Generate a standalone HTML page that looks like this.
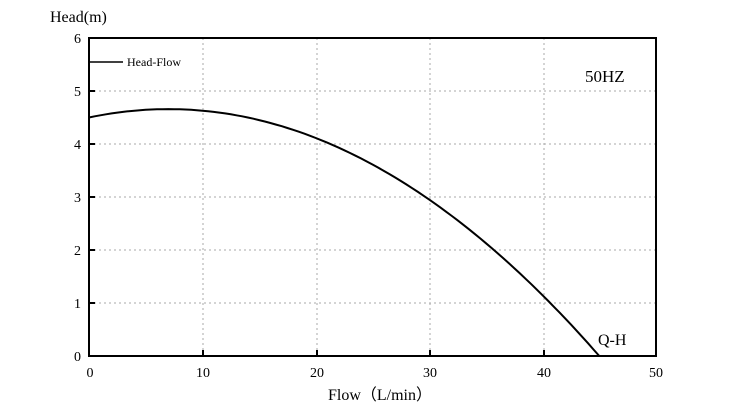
<!DOCTYPE html>
<html><head><style>body{margin:0;background:#fff}svg{display:block}</style></head><body>
<svg width="736" height="416" xmlns="http://www.w3.org/2000/svg" font-family="Liberation Serif, serif">
<g stroke="#aaa" stroke-dasharray="2,3" stroke-width="1">
<line x1="203" y1="38" x2="203" y2="356"/><line x1="317" y1="38" x2="317" y2="356"/><line x1="430" y1="38" x2="430" y2="356"/><line x1="544" y1="38" x2="544" y2="356"/>
<line x1="89" y1="91" x2="656" y2="91"/><line x1="89" y1="144" x2="656" y2="144"/><line x1="89" y1="197" x2="656" y2="197"/><line x1="89" y1="250" x2="656" y2="250"/><line x1="89" y1="303" x2="656" y2="303"/>
</g>
<rect x="89" y="38" width="567" height="318" fill="none" stroke="#000" stroke-width="2"/>
<g stroke="#000" stroke-width="2">
<line x1="203" y1="356" x2="203" y2="350"/><line x1="317" y1="356" x2="317" y2="350"/><line x1="430" y1="356" x2="430" y2="350"/><line x1="544" y1="356" x2="544" y2="350"/>
<line x1="89" y1="91" x2="95" y2="91"/><line x1="89" y1="144" x2="95" y2="144"/><line x1="89" y1="197" x2="95" y2="197"/><line x1="89" y1="250" x2="95" y2="250"/><line x1="89" y1="303" x2="95" y2="303"/>
<line x1="89" y1="62" x2="123" y2="62" stroke-width="1.5"/>
</g>
<polyline id="c" fill="none" stroke="#000" stroke-width="2" points=""/>
<g font-size="14" fill="#000" text-anchor="end">
<text x="81" y="43">6</text><text x="81" y="96">5</text><text x="81" y="149">4</text><text x="81" y="202">3</text><text x="81" y="255">2</text><text x="81" y="308">1</text><text x="81" y="361">0</text>
</g>
<g font-size="14" fill="#000" text-anchor="middle">
<text x="90" y="377">0</text><text x="203" y="377">10</text><text x="317" y="377">20</text><text x="430" y="377">30</text><text x="544" y="377">40</text><text x="656" y="377">50</text>
<text x="380" y="400" font-size="16">Flow（L/min）</text>
</g>
<text x="50" y="22" font-size="16">Head(m)</text>
<text x="127" y="66" font-size="12">Head-Flow</text>
<text x="585" y="82" font-size="17">50HZ</text>
<text x="598" y="345" font-size="16">Q-H</text>
<script>
var p=[];for(var x=0;x<=45.01;x+=0.5){var h=4.5+0.04516*x-0.003226*x*x;if(h<0)h=0;p.push((89+x*11.34).toFixed(1)+","+(356-h*53).toFixed(1));}
document.getElementById("c").setAttribute("points",p.join(" "));
</script>
</svg>
</body></html>
